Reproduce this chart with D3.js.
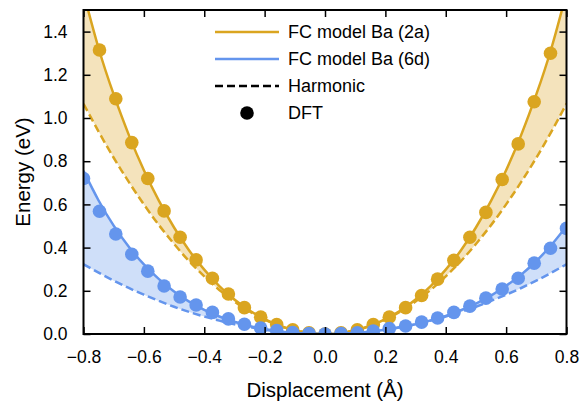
<!DOCTYPE html>
<html><head><meta charset="utf-8">
<script src="https://cdn.jsdelivr.net/npm/d3@7"></script>
<style>
body{margin:0;background:#fff;}
text{font-family:"Liberation Sans",Arial,Helvetica,sans-serif;fill:#000;}
</style></head>
<body>
<svg id="chart" width="581" height="402"></svg>
<script>
// ---- data ----
const gridX = [-0.80,-0.75,-0.70,-0.65,-0.60,-0.55,-0.50,-0.45,-0.40,-0.35,-0.30,-0.25,-0.20,-0.15,-0.10,-0.05,0.00,
                0.05,0.10,0.15,0.20,0.25,0.30,0.35,0.40,0.45,0.50,0.55,0.60,0.65,0.70,0.75,0.80];
const goldFC = [1.580,1.323,1.109,0.922,0.758,0.616,0.493,0.387,0.298,0.222,0.160,0.109,0.069,0.038,0.017,0.004,0.000,
                0.004,0.017,0.038,0.069,0.109,0.160,0.222,0.298,0.387,0.493,0.616,0.758,0.922,1.109,1.323,1.580];
const goldHarm = [1.066,0.937,0.816,0.704,0.600,0.504,0.417,0.337,0.267,0.204,0.150,0.104,0.067,0.037,0.017,0.004,0.000,
                  0.004,0.017,0.037,0.067,0.104,0.150,0.204,0.267,0.337,0.417,0.504,0.600,0.704,0.816,0.937,1.066];
const blueFC = [0.755,0.618,0.502,0.404,0.322,0.254,0.197,0.150,0.112,0.081,0.057,0.037,0.023,0.012,0.005,0.001,0.000,
                0.001,0.005,0.011,0.020,0.031,0.045,0.063,0.084,0.110,0.141,0.178,0.223,0.275,0.338,0.412,0.499];
const blueHarm = [0.323,0.284,0.247,0.213,0.182,0.153,0.126,0.102,0.081,0.062,0.045,0.032,0.020,0.011,0.005,0.001,0.000,
                  0.001,0.005,0.011,0.020,0.032,0.045,0.062,0.081,0.102,0.126,0.153,0.182,0.213,0.247,0.284,0.323];
const dftX = [-0.800,-0.747,-0.693,-0.640,-0.587,-0.533,-0.480,-0.427,-0.373,-0.320,-0.267,-0.213,-0.160,-0.107,-0.053,0.000,
              0.053,0.107,0.160,0.213,0.267,0.320,0.373,0.427,0.480,0.533,0.587,0.640,0.693,0.747,0.800];
const goldDFT = [1.570,1.315,1.089,0.886,0.720,0.570,0.448,0.343,0.258,0.185,0.122,0.078,0.044,0.019,0.005,0.000,
                 0.005,0.019,0.044,0.078,0.122,0.178,0.254,0.341,0.448,0.563,0.715,0.880,1.075,1.300,1.570];
const blueDFT = [0.720,0.568,0.463,0.369,0.291,0.222,0.171,0.134,0.100,0.070,0.045,0.028,0.016,0.007,0.002,0.000,
                 0.002,0.006,0.014,0.025,0.037,0.055,0.074,0.100,0.129,0.166,0.208,0.258,0.328,0.397,0.489];
const xTicks = [-0.8,-0.6,-0.4,-0.2,0.0,0.2,0.4,0.6,0.8];
const yTicks = [0.0,0.2,0.4,0.6,0.8,1.0,1.2,1.4];
const legendLabels = ["FC model Ba (2a)","FC model Ba (6d)","Harmonic","DFT"];

// ---- styles ----
const GOLD = "#DAA520", BLUE = "#6495ED";
const GOLD_FILL = "#F4E3BC", BLUE_FILL = "#CFDFF9";
const TICK_FS = 17.5, LEG_FS = 18, TITLE_FS = 20.5;

const svg = d3.select("#chart");
const L = 83.5, R = 566.5, T = 10, B = 334;
const x = d3.scaleLinear().domain([-0.8,0.8]).range([L,R]);
const y = d3.scaleLinear().domain([0,1.5]).range([B,T]);

svg.append("defs").append("clipPath").attr("id","clip")
  .append("rect").attr("x",L).attr("y",T).attr("width",R-L).attr("height",B-T);
const g = svg.append("g").attr("clip-path","url(#clip)");

const idx = d3.range(gridX.length);
const curve = d3.curveNatural;
function area(top, bot){
  return d3.area().x(i=>x(gridX[i])).y0(i=>y(bot[i])).y1(i=>y(top[i])).curve(curve)(idx);
}
function line(v){
  return d3.line().x(i=>x(gridX[i])).y(i=>y(v[i])).curve(curve)(idx);
}
g.append("path").attr("d",area(goldFC,goldHarm)).attr("fill",GOLD_FILL);
g.append("path").attr("d",area(blueFC,blueHarm)).attr("fill",BLUE_FILL);

function series(fc, harm, dft, col){
  g.append("path").attr("d",line(harm)).attr("fill","none").attr("stroke",col)
    .attr("stroke-width",2.5).attr("stroke-dasharray","8,4");
  g.append("path").attr("d",line(fc)).attr("fill","none").attr("stroke",col).attr("stroke-width",2.5);
  g.selectAll(null).data(d3.range(dftX.length)).enter().append("circle")
    .attr("cx",i=>x(dftX[i])).attr("cy",i=>y(dft[i])).attr("r",6.8).attr("fill",col);
}
series(goldFC, goldHarm, goldDFT, GOLD);
series(blueFC, blueHarm, blueDFT, BLUE);

// ---- axes ----
const fmt = d3.format(".1f");
const tl = 7;
const axB = svg.append("g").attr("transform",`translate(0,${B})`)
  .call(d3.axisBottom(x).tickValues(xTicks).tickFormat(fmt).tickSizeInner(-tl).tickSizeOuter(0).tickPadding(17));
const axT = svg.append("g").attr("transform",`translate(0,${T})`)
  .call(d3.axisTop(x).tickValues(xTicks).tickFormat("").tickSizeInner(-tl).tickSizeOuter(0));
const axL = svg.append("g").attr("transform",`translate(${L},0)`)
  .call(d3.axisLeft(y).tickValues(yTicks).tickFormat(fmt).tickSizeInner(-tl).tickSizeOuter(0).tickPadding(16));
const axR = svg.append("g").attr("transform",`translate(${R},0)`)
  .call(d3.axisRight(y).tickValues(yTicks).tickFormat("").tickSizeInner(-tl).tickSizeOuter(0));
[axB,axT,axL,axR].forEach(a=>{
  a.select(".domain").remove();
  a.selectAll(".tick line").attr("stroke","#000").attr("stroke-width",1.5);
  a.selectAll(".tick text").attr("font-size",TICK_FS).attr("font-family",'"Liberation Sans",Arial,sans-serif').attr("fill","#000");
});
svg.append("rect").attr("x",L).attr("y",T).attr("width",R-L).attr("height",B-T)
  .attr("fill","none").attr("stroke","#000").attr("stroke-width",2);

svg.append("text").attr("x",(L+R)/2).attr("y",397).attr("text-anchor","middle")
  .attr("font-size",TITLE_FS).text("Displacement (Å)");
svg.append("text").attr("transform",`translate(30,${(T+B)/2}) rotate(-90)`).attr("text-anchor","middle")
  .attr("font-size",TITLE_FS).text("Energy (eV)");

// ---- legend ----
const lg = svg.append("g");
const rowsY = [32,59,86,113];
const lx0 = 215, lx1 = 279, tx = 288;
lg.append("line").attr("x1",lx0).attr("x2",lx1).attr("y1",rowsY[0]).attr("y2",rowsY[0]).attr("stroke",GOLD).attr("stroke-width",2.5);
lg.append("line").attr("x1",lx0).attr("x2",lx1).attr("y1",rowsY[1]).attr("y2",rowsY[1]).attr("stroke",BLUE).attr("stroke-width",2.5);
lg.append("line").attr("x1",lx0).attr("x2",lx1).attr("y1",rowsY[2]).attr("y2",rowsY[2]).attr("stroke","#000").attr("stroke-width",2.5).attr("stroke-dasharray","8,4");
lg.append("circle").attr("cx",247).attr("cy",rowsY[3]).attr("r",6.8).attr("fill","#000");
legendLabels.forEach((t,i)=>{
  lg.append("text").attr("x",tx).attr("y",rowsY[i]).attr("dy","0.36em").attr("font-size",LEG_FS).text(t);
});
</script>
</body></html>
